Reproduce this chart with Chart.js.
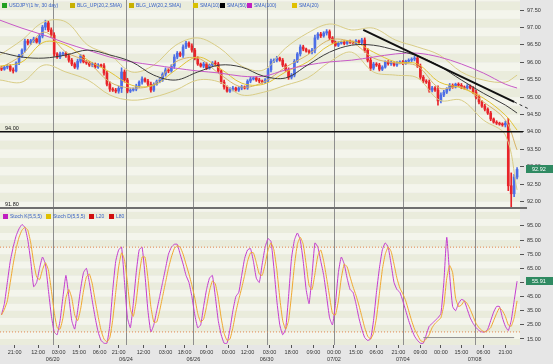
<!DOCTYPE html>
<html>
<head>
<meta charset="utf-8">
<script src="https://cdn.jsdelivr.net/npm/chart.js@4.4.0/dist/chart.umd.min.js"></script>
<style>
  html, body { margin: 0; padding: 0; background: #e6e6e6; }
  #wrap { position: relative; width: 553px; height: 364px; overflow: hidden; font-family: "Liberation Sans", Arial, sans-serif; }
  #priceChart { position: absolute; left: 0; top: 0; }
  #stochChart { position: absolute; left: 0; top: 209px; }
  #sep { position: absolute; left: 0; top: 207px; width: 527px; height: 2px; background: #6f6f6f; }
  .lg { position: absolute; font-size: 5px; line-height: 6px; color: #3a62c6; white-space: nowrap; }
  .lg i { display: inline-block; width: 5px; height: 5px; margin-right: 2px; vertical-align: -1px; }
</style>
</head>
<body>
<div id="wrap">
  <canvas id="priceChart" width="553" height="207"></canvas>
  <div id="sep"></div>
  <canvas id="stochChart" width="553" height="155"></canvas>

  <div class="lg" style="left:2px;top:2px"><i style="background:#22a022"></i>USDJPY(1 hr, 30 day)</div>
  <div class="lg" style="left:70px;top:2px"><i style="background:#c8b000"></i>BLG_UP(20,2,SMA)</div>
  <div class="lg" style="left:129px;top:2px"><i style="background:#c8b000"></i>BLG_LW(20,2,SMA)</div>
  <div class="lg" style="left:193px;top:2px"><i style="background:#d8c000"></i>SMA(10)</div>
  <div class="lg" style="left:220px;top:2px"><i style="background:#000"></i>SMA(50)</div>
  <div class="lg" style="left:247px;top:2px"><i style="background:#c020c0"></i>SMA(100)</div>
  <div class="lg" style="left:292px;top:2px"><i style="background:#e0c000"></i>SMA(20)</div>

  <div class="lg" style="left:3px;top:213px"><i style="background:#c020c0"></i>Stoch K(5,5,5)</div>
  <div class="lg" style="left:46px;top:213px"><i style="background:#e0c000"></i>Stoch D(5,5,5)</div>
  <div class="lg" style="left:89px;top:213px"><i style="background:#d01010"></i>L20</div>
  <div class="lg" style="left:109px;top:213px"><i style="background:#d01010"></i>L80</div>
</div>

<script>
// closes, one candle every 2 hours; open = previous close
const firstOpen = 95.84;
const closes = [
  95.80, 95.86, 95.89, 95.78, 95.75, 95.98, 96.18, 96.35, 96.61, 96.55,
  96.62, 96.67, 96.58, 96.75, 97.01, 97.13, 96.93, 96.78, 96.24, 96.15,
  96.24, 96.26, 96.18, 96.06, 95.95, 95.86, 96.03, 96.18, 96.01, 95.98,
  95.92, 95.95, 95.86, 95.92, 95.90, 95.69, 95.37, 95.23, 95.20, 95.17,
  95.25, 95.72, 95.49, 95.17, 95.20, 95.23, 95.32, 95.43, 95.52, 95.46,
  95.37, 95.20, 95.37, 95.46, 95.49, 95.66, 95.78, 95.75, 95.89, 96.15,
  96.26, 96.20, 96.44, 96.55, 96.47, 96.35, 96.12, 95.95, 95.89, 95.95,
  95.83, 95.92, 95.98, 95.95, 95.75, 95.43, 95.29, 95.17, 95.23, 95.26,
  95.20, 95.26, 95.29, 95.26, 95.46, 95.52, 95.55, 95.49, 95.46, 95.43,
  95.49, 95.78, 96.03, 96.06, 96.12, 96.06, 95.92, 95.78, 95.57, 95.63,
  96.03, 96.24, 96.44, 96.38, 96.32, 96.29, 96.35, 96.70, 96.81, 96.76,
  96.84, 96.88, 96.70, 96.58, 96.49, 96.55, 96.58, 96.54, 96.60, 96.58,
  96.55, 96.61, 96.57, 96.64, 96.35, 96.06, 95.83, 95.95, 95.92, 95.80,
  95.86, 96.01, 95.96, 95.98, 95.92, 95.98, 96.01, 95.97, 96.03, 96.06,
  96.09, 96.12, 95.89, 95.57, 95.46, 95.43, 95.20, 95.26, 95.20, 94.89,
  95.06, 95.14, 95.23, 95.34, 95.29, 95.37, 95.34, 95.29, 95.26, 95.32,
  95.26, 95.14, 95.00, 94.86, 94.74, 94.65, 94.54, 94.37, 94.28, 94.25,
  94.22, 94.20, 94.25, 92.45, 92.22, 92.70, 92.92
];
// wick length beyond the body, in hundredths of a yen
const wicks = [
  4, 3, 5, 4, 6, 3, 5, 4, 6, 5,  4, 5, 3, 6, 5, 8, 5, 6, 7, 4,
  5, 3, 4, 6, 5, 4, 6, 5, 3, 4,  4, 5, 3, 4, 3, 6, 5, 7, 4, 5,
  6, 12, 6, 5, 4, 3, 5, 4, 6, 3,  5, 6, 4, 3, 5, 4, 6, 5, 4, 7,
  5, 4, 6, 5, 4, 6, 5, 4, 3, 5,  4, 3, 4, 6, 5, 4, 6, 3, 4, 5,
  3, 4, 5, 3, 4, 5, 3, 4, 5, 3,  4, 5, 6, 4, 5, 3, 5, 4, 6, 5,
  5, 4, 6, 5, 3, 4, 5, 8, 4, 5,  4, 6, 5, 4, 3, 4, 3, 4, 3, 4,
  3, 4, 3, 5, 6, 5, 7, 5, 4, 5,  4, 3, 4, 5, 3, 4, 3, 4, 3, 4,
  4, 5, 4, 6, 5, 4, 6, 5, 4, 12,  6, 5, 4, 5, 4, 3, 4, 5, 3, 4,
  3, 4, 5, 6, 4, 5, 4, 5, 3, 4,  3, 4, 6, 14, 37, 8, 5
];

const stochK = [
  32, 40, 55, 70, 80, 88, 93, 96, 94, 85,  70, 52, 55, 65, 73, 68, 50, 32, 20, 18,
  28, 45, 60, 45, 28, 22, 35, 50, 62, 65,  55, 42, 30, 20, 14, 12, 12, 25, 50, 70,
  78, 80, 55, 30, 23, 40, 62, 78, 80, 60,  35, 20, 25, 35, 45, 55, 65, 75, 80, 82,
  82, 75, 68, 60, 55, 45, 32, 23, 25, 38,  50, 58, 60, 45, 28, 18, 12, 12, 22, 35,
  45, 48, 60, 72, 78, 79, 70, 58, 55, 68,  80, 86, 84, 65, 42, 25, 18, 22, 45, 72,
  85, 90, 85, 70, 50, 40, 60, 83, 80, 70,  60, 45, 30, 25, 40, 62, 73, 68, 58, 50,
  48, 40, 30, 22, 16, 14, 15, 28, 48, 65,  78, 83, 80, 68, 55, 50, 48, 42, 35, 28,
  22, 17, 14, 12, 12, 18, 24, 26, 28, 30,  33, 55, 87, 60, 38, 35, 40, 43, 42, 36,
  30, 26, 23, 21, 20, 20, 22, 28, 34, 38,  38, 30, 24, 21, 28, 42, 55.91
];
const stochD = [
  32, 36, 42, 55, 68, 79, 87, 92, 94, 92,  83, 69, 59, 57, 64, 69, 64, 50, 34, 23,
  22, 30, 44, 50, 44, 32, 28, 36, 49, 59,  61, 54, 42, 31, 21, 15, 13, 16, 29, 48,
  66, 76, 71, 55, 36, 31, 42, 60, 73, 73,  58, 38, 27, 27, 35, 45, 55, 65, 73, 79,
  81, 80, 75, 68, 61, 53, 44, 33, 27, 29,  38, 49, 56, 54, 44, 30, 19, 14, 15, 23,
  34, 43, 51, 60, 70, 76, 76, 69, 61, 60,  68, 78, 83, 78, 64, 44, 28, 22, 28, 46,
  67, 82, 87, 82, 68, 53, 50, 61, 74, 78,  70, 58, 45, 33, 32, 42, 58, 68, 66, 59,
  52, 46, 39, 31, 23, 17, 15, 19, 30, 47,  64, 75, 80, 77, 68, 58, 51, 47, 42, 35,
  28, 22, 18, 14, 13, 15, 18, 23, 26, 28,  30, 39, 58, 67, 62, 44, 38, 39, 42, 40,
  36, 31, 26, 23, 21, 20, 21, 23, 28, 33,  37, 35, 31, 25, 24, 30, 42
];

// overlay lines, read every 15 hours
const overlayHours = [0, 15, 30, 45, 60, 75, 90, 105, 120, 135, 150, 165, 180, 195, 210, 225, 240, 255, 270, 285, 300, 315, 330, 345, 353];
const sma100 = [97.21, 96.98, 96.78, 96.55, 96.35, 96.15, 96.01, 95.92, 95.83, 95.75, 95.69, 95.60, 95.60, 95.78, 95.92, 96.01, 96.06, 96.15, 96.24, 96.26, 96.15, 95.95, 95.69, 95.37, 95.26];
const sma50 = [96.29, 96.15, 96.12, 96.21, 96.35, 96.21, 96.01, 95.63, 95.49, 95.72, 95.92, 95.86, 95.60, 95.55, 95.92, 96.29, 96.49, 96.49, 96.35, 96.18, 95.89, 95.49, 95.11, 94.77, 94.54];
const sma20 = [95.89, 96.01, 96.58, 96.49, 96.06, 95.72, 95.34, 95.34, 95.78, 96.15, 95.83, 95.40, 95.37, 95.72, 96.01, 96.49, 96.61, 96.29, 96.01, 95.95, 95.43, 95.26, 94.97, 94.48, 94.05];
const sma10 = [95.83, 96.21, 96.87, 96.29, 96.01, 95.43, 95.26, 95.37, 96.01, 96.12, 95.66, 95.29, 95.43, 95.86, 96.21, 96.64, 96.58, 96.12, 95.98, 95.89, 95.26, 95.29, 94.86, 94.34, 93.48];
const bbUpper = [96.21, 96.64, 97.16, 97.16, 96.49, 96.21, 95.72, 95.92, 96.49, 96.70, 96.41, 95.89, 95.78, 96.41, 96.84, 97.10, 96.93, 96.98, 96.64, 96.44, 96.21, 95.72, 95.49, 95.43, 95.63];
const bbLower = [95.49, 95.43, 95.92, 95.72, 95.49, 95.06, 94.91, 95.00, 95.20, 95.49, 95.43, 95.06, 95.14, 95.34, 95.55, 96.01, 96.29, 95.72, 95.63, 95.55, 94.91, 94.91, 94.34, 93.91, 92.33];

// drawn objects
const trendHours = [248, 351];
const trendPrices = [96.93, 94.86];
const trendExtHours = [351, 362];
const trendExtPrices = [94.86, 94.64];
const levelPrice = 94.00;
const lastPrice = 92.92;
const lastStoch = 55.91;

// axes
const priceTicks = [92, 92.5, 93, 93.5, 94, 94.5, 95, 95.5, 96, 96.5, 97, 97.5];
const stochTicks = [15, 25, 35, 45, 55, 65, 75, 85, 95];
const timeHours = [10, 26, 40, 54, 68, 81, 98, 113, 126, 141, 156, 169, 184, 199, 214, 228, 243, 257, 272, 287, 301, 315, 330, 345];
const timeLabels = ["21:00", "12:00", "03:00", "15:00", "06:00", "21:00", "12:00", "03:00", "18:00", "09:00", "00:00", "12:00",
                    "03:00", "18:00", "09:00", "00:00", "15:00", "06:00", "21:00", "09:00", "00:00", "15:00", "06:00", "21:00"];
const dateHours = [36, 86, 132, 182, 228, 275, 324];
const dateLabels = ["06/20", "06/24", "06/26", "06/30", "07/02", "07/04", "07/08"];

const X_MAX = 355;
const FONT = '"Liberation Sans", Arial, sans-serif';

Chart.defaults.font.family = FONT;
Chart.defaults.font.size = 5.5;
Chart.defaults.color = "#333";

const hours = closes.map((c, i) => 2 * i + 1);
const opens = closes.map((c, i) => (i === 0 ? firstOpen : closes[i - 1]));
const candleColors = closes.map((c, i) => (c >= opens[i] ? "#4d6ee6" : "#e8242a"));
const pts = (xs, ys) => xs.map((x, i) => ({ x: x, y: ys[i] }));

// keep the plot area flush with the canvas edges
const noPad = s => { s.paddingTop = 0; s.paddingBottom = 0; s.paddingLeft = 0; s.paddingRight = 0; };

// striped plot background + day separators
const panelBg = {
  id: "panelBg",
  beforeDraw(chart, args, opts) {
    const { ctx, chartArea: a, scales: { x, y } } = chart;
    ctx.save();
    ctx.fillStyle = "#e6e6e6";
    ctx.fillRect(0, 0, chart.width, chart.height);
    const step = opts.band;
    for (let k = Math.floor(y.min / step); k * step < y.max; k++) {
      const top = Math.max(y.getPixelForValue((k + 1) * step), a.top);
      const bot = Math.min(y.getPixelForValue(k * step), a.bottom);
      ctx.fillStyle = k % 2 ? "#f4f5ec" : "#eaecdc";
      ctx.fillRect(a.left, top, a.width, bot - top);
    }
    ctx.strokeStyle = "#8e8e8e";
    ctx.lineWidth = 1;
    dateHours.forEach(h => {
      const px = Math.round(x.getPixelForValue(h)) + 0.5;
      ctx.beginPath();
      ctx.moveTo(px, a.top);
      ctx.lineTo(px, a.bottom);
      ctx.stroke();
    });
    ctx.restore();
  },
  afterDraw(chart, args, opts) {
    const { ctx, chartArea: a, scales: { x, y } } = chart;
    ctx.save();
    ctx.font = "5.5px " + FONT;
    ctx.textBaseline = "middle";
    // last value box on the right axis
    const by = Math.round(y.getPixelForValue(opts.last));
    ctx.fillStyle = "#2f8a62";
    ctx.fillRect(a.right + 6, by - 4, chart.width - a.right - 6, 8);
    ctx.fillStyle = "#fff";
    ctx.fillText(opts.last.toFixed(2), a.right + 12, by);
    // left level notes
    ctx.fillStyle = "#111";
    ctx.textBaseline = "bottom";
    (opts.notes || []).forEach(v => ctx.fillText(v.toFixed(2), 5, y.getPixelForValue(v) - 1));
    // date row under the time ticks
    if (opts.dates) {
      ctx.fillStyle = "#333";
      ctx.textAlign = "center";
      ctx.textBaseline = "top";
      dateHours.forEach((h, i) => ctx.fillText(dateLabels[i], x.getPixelForValue(h), a.bottom + 12));
    }
    ctx.restore();
  }
};

const rightAxis = (min, max, ticks) => ({
  position: "right",
  min: min,
  max: max,
  afterFit(s) { s.width = 33; noPad(s); },
  afterBuildTicks(s) { s.ticks = ticks.map(v => ({ value: v })); },
  ticks: { padding: 3, color: "#333", callback: v => v.toFixed(2) },
  grid: { drawOnChartArea: false, tickLength: 4, color: "#555" },
  border: { display: false }
});

const base = {
  responsive: false,
  animation: false,
  events: [],
  layout: { padding: 0 },
  plugins: { legend: { display: false }, tooltip: { enabled: false } }
};

const line = (data, color, width, extra) => Object.assign({
  type: "line", data: data, borderColor: color, borderWidth: width,
  pointRadius: 0, fill: false, tension: 0.35
}, extra || {});

new Chart(document.getElementById("priceChart"), {
  type: "bar",
  data: {
    datasets: [
      {
        data: hours.map((h, i) => ({
          x: h,
          y: [Math.min(opens[i], closes[i]) - wicks[i] / 100, Math.max(opens[i], closes[i]) + wicks[i] / 100]
        })),
        backgroundColor: candleColors, barThickness: 1, grouped: false, order: 20
      },
      {
        data: hours.map((h, i) => ({ x: h, y: [opens[i], closes[i]] })),
        backgroundColor: candleColors, barThickness: 2, minBarLength: 1, grouped: false, order: 19
      },
      line(pts(overlayHours, bbUpper), "#d9cd86", 1, { order: 9 }),
      line(pts(overlayHours, bbLower), "#d9cd86", 1, { order: 9 }),
      line(pts(overlayHours, sma10), "#d8b468", 1, { order: 8 }),
      line(pts(overlayHours, sma20), "#e2c436", 1, { order: 7 }),
      line(pts(overlayHours, sma100), "#c85ac8", 1, { order: 6 }),
      line(pts(overlayHours, sma50), "#3c3c3c", 1, { order: 5 }),
      line([{ x: 0, y: levelPrice }, { x: X_MAX + 2, y: levelPrice }], "#111", 1.5, { tension: 0, clip: false, order: 2 }),
      line(pts(trendHours, trendPrices), "#111", 2, { tension: 0, order: 1 }),
      line(pts(trendExtHours, trendExtPrices), "#333", 1, { tension: 0, clip: false, borderDash: [3, 3], order: 1 })
    ]
  },
  options: Object.assign({}, base, {
    scales: {
      x: { type: "linear", min: 0, max: X_MAX, offset: false, display: false, afterFit: noPad },
      y: rightAxis(91.84, 97.79, priceTicks)
    },
    plugins: Object.assign({}, base.plugins, {
      panelBg: { band: 0.25, last: lastPrice, notes: [levelPrice, 91.80] }
    })
  }),
  plugins: [panelBg]
});

new Chart(document.getElementById("stochChart"), {
  type: "line",
  data: {
    datasets: [
      line([{ x: 0, y: 80 }, { x: X_MAX, y: 80 }], "#e2874e", 1, { tension: 0, borderDash: [1, 2] }),
      line([{ x: 0, y: 20 }, { x: X_MAX, y: 20 }], "#e2874e", 1, { tension: 0, borderDash: [1, 2] }),
      line([{ x: 289, y: 16 }, { x: 351, y: 16 }], "#8a8a8a", 1, { tension: 0 }),
      line(pts(hours, stochD), "#f0a830", 1, { tension: 0.15 }),
      line(pts(hours, stochK), "#c43cd0", 1, { tension: 0.15 })
    ]
  },
  options: Object.assign({}, base, {
    scales: {
      x: {
        type: "linear", min: 0, max: X_MAX, offset: false,
        afterFit(s) { s.height = 19; noPad(s); },
        afterBuildTicks(s) { s.ticks = timeHours.map(v => ({ value: v })); },
        ticks: { autoSkip: false, maxRotation: 0, padding: 1, color: "#333", callback: (v, i) => timeLabels[i] },
        grid: { drawOnChartArea: false, tickLength: 3, color: "#555" },
        border: { display: false }
      },
      y: rightAxis(10.75, 107, stochTicks)
    },
    plugins: Object.assign({}, base.plugins, {
      panelBg: { band: 5, last: lastStoch, dates: true }
    })
  }),
  plugins: [panelBg]
});
</script>
</body>
</html>
